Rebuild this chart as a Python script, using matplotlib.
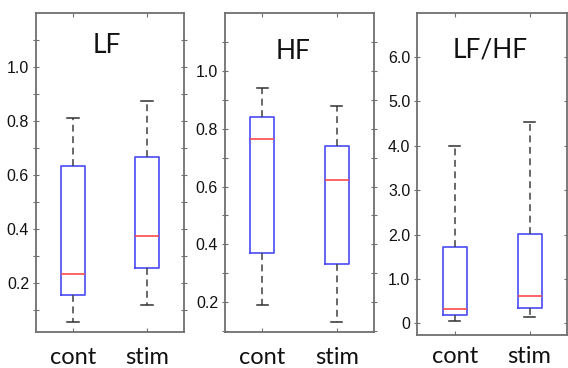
import numpy as np
import matplotlib
matplotlib.use("Agg")
import matplotlib.pyplot as plt
from matplotlib.ticker import FixedLocator, FuncFormatter

groups = ["cont", "stim"]
titles = ["LF", "HF", "LF/HF"]

# box stats per panel: [whislo, q1, med, q3, whishi] for cont, stim
lf_cont = [0.057, 0.158, 0.234, 0.633, 0.813]
lf_stim = [0.120, 0.257, 0.377, 0.669, 0.874]
hf_cont = [0.191, 0.370, 0.766, 0.841, 0.941]
hf_stim = [0.129, 0.333, 0.621, 0.742, 0.878]
ratio_cont = [0.06, 0.20, 0.315, 1.72, 4.00]
ratio_stim = [0.15, 0.35, 0.615, 2.01, 4.53]

ylims = [(0.02, 1.2), (0.095, 1.2), (-0.26, 7.0)]
tick_pos = [np.arange(0.1, 1.15, 0.1), np.arange(0.1, 1.15, 0.1), np.arange(0, 7, 1)]
label_pos = [[0.2, 0.4, 0.6, 0.8, 1.0], [0.2, 0.4, 0.6, 0.8, 1.0], [0, 1, 2, 3, 4, 5, 6]]

panel_data = [(lf_cont, lf_stim), (hf_cont, hf_stim), (ratio_cont, ratio_stim)]

rects = [
    [0.0634, 0.0978, 0.2606, 0.8668],
    [0.3961, 0.0970, 0.2623, 0.8668],
    [0.7347, 0.0897, 0.2636, 0.8758],
]
title_xy = [(0.48, 0.897), (0.458, 0.88), (0.484, 0.884)]
xpads = [10.5, 10.5, 8.0]

fig = plt.figure(figsize=(5.68, 3.68), dpi=100)
spine_col = "#707070"

for i in range(3):
    ax = fig.add_axes(rects[i])
    stats = []
    for g, vals in zip(groups, panel_data[i]):
        stats.append(dict(label=g, whislo=vals[0], q1=vals[1], med=vals[2],
                          q3=vals[3], whishi=vals[4], fliers=[]))
    ax.bxp(stats, positions=[1, 2], widths=0.32, showfliers=False,
           boxprops=dict(color="#4a4af5", linewidth=1.2),
           medianprops=dict(color="#ff4a4a", linewidth=1.2),
           whiskerprops=dict(color="#404040", linewidth=1.1, linestyle=(0, (4.5, 3))),
           capprops=dict(color="#303030", linewidth=1.1),
           capwidths=0.15)
    ax.set_xlim(0.5, 2.5)
    ax.set_ylim(*ylims[i])

    labs = set(np.round(label_pos[i], 2))
    if i == 2:
        fmt = FuncFormatter(lambda v, p: "0" if abs(v) < 1e-9 else f"{v:.1f}")
    else:
        fmt = FuncFormatter(lambda v, p, labs=labs: f"{v:.1f}" if round(v, 2) in labs else "")
    ax.yaxis.set_major_locator(FixedLocator(tick_pos[i]))
    ax.yaxis.set_major_formatter(fmt)

    ax.set_xticks([1, 2])
    ax.set_xticklabels(groups, fontsize=17, family="Lato", color="#111111")
    ax.tick_params(axis="x", which="both", direction="in", length=3, pad=xpads[i],
                   top=True, color=spine_col)
    ax.tick_params(axis="y", which="both", direction="inout", length=4, pad=3,
                   right=True, color=spine_col, labelsize=11.5, labelcolor="#111111")
    for lab in ax.get_yticklabels():
        lab.set_family("Liberation Sans")
    for sp in ax.spines.values():
        sp.set_color(spine_col)
        sp.set_linewidth(1.3)

    ax.text(title_xy[i][0], title_xy[i][1], titles[i], transform=ax.transAxes,
            ha="center", va="center", fontsize=19, family="Lato", color="#111111")

fig.savefig("out.png", dpi=100)
